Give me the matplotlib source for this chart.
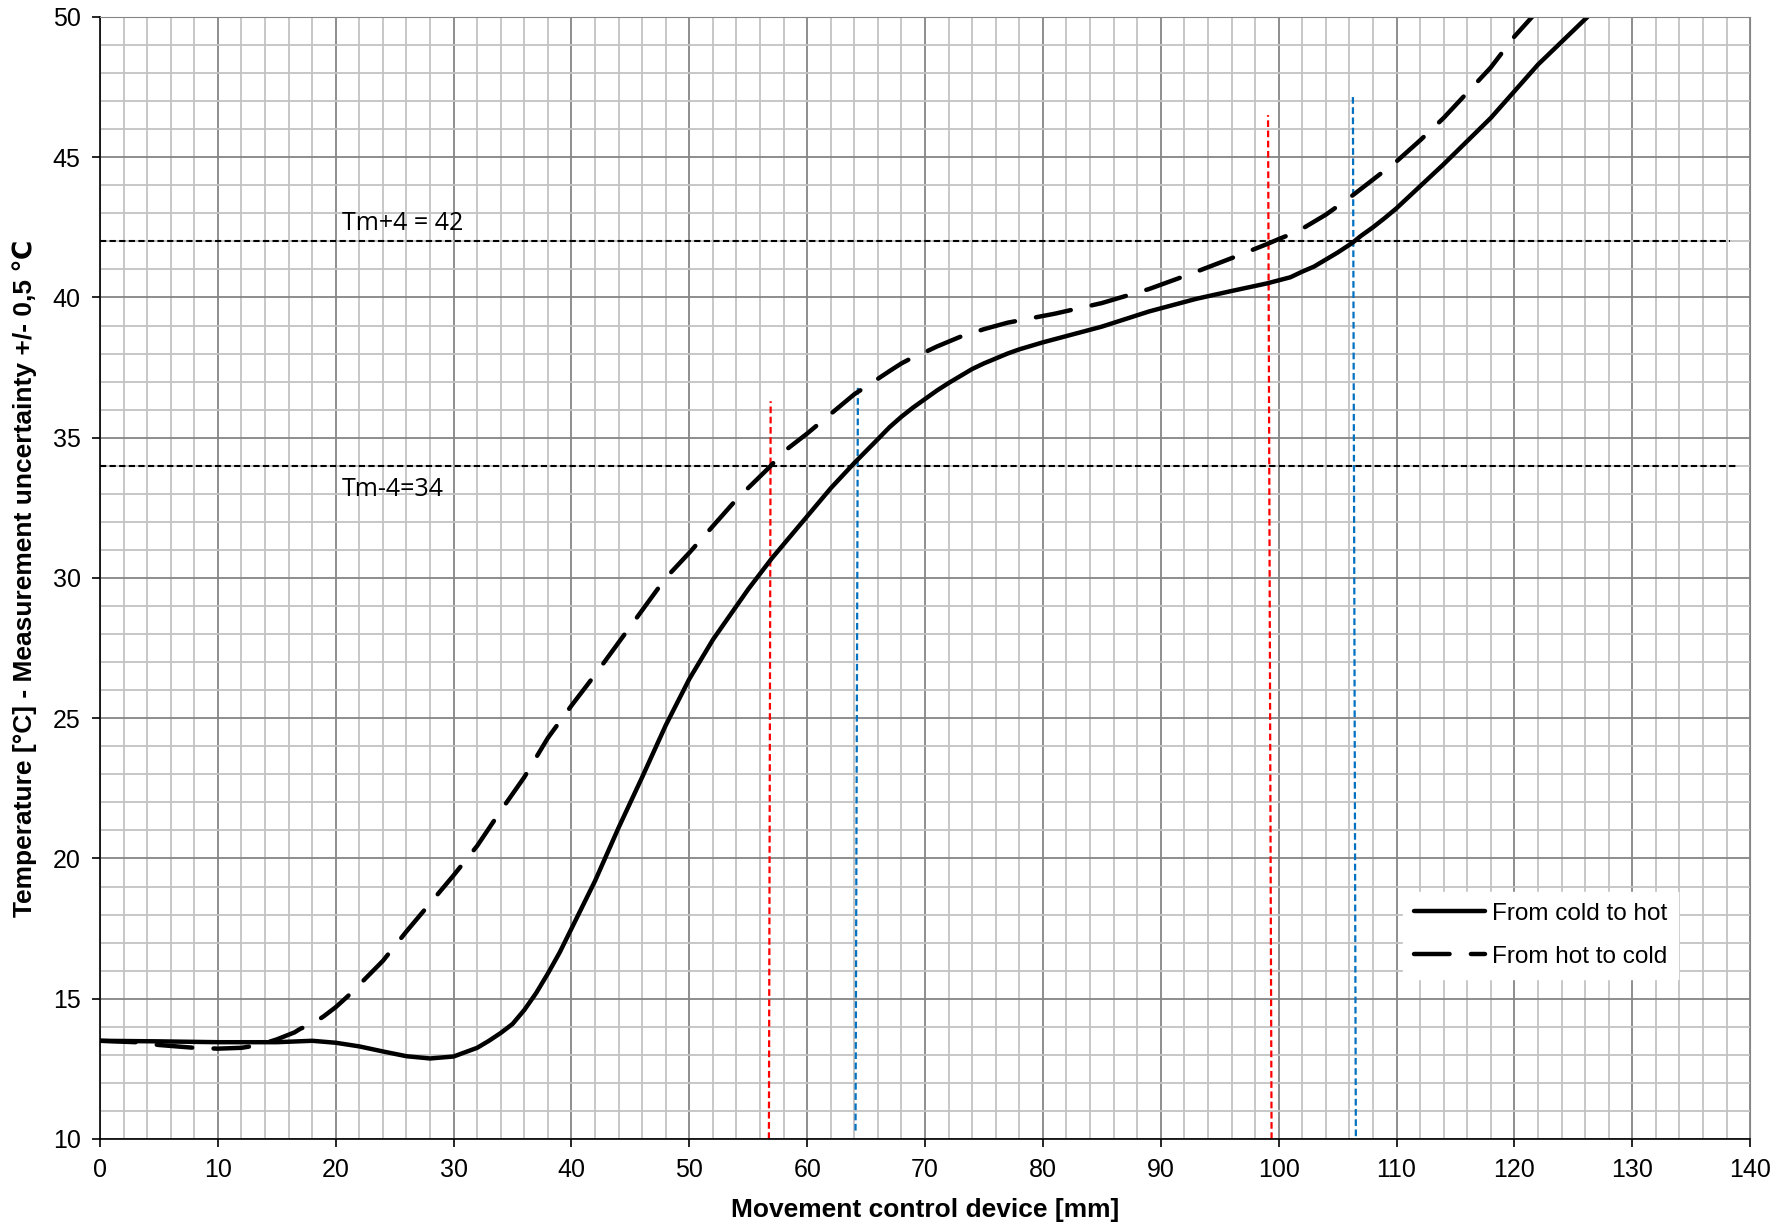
import matplotlib
matplotlib.use('Agg')
import matplotlib.pyplot as plt
from matplotlib.ticker import MultipleLocator

plt.rcParams['font.family'] = ['Liberation Sans', 'DejaVu Sans']

# from cold to hot (solid)
cold_x = [0, 5, 10, 15, 18, 20, 22, 24, 26, 28, 30, 32, 33, 34, 35, 36, 37, 38,
          39, 40, 42, 44, 46, 48, 50, 52, 55, 57, 60, 62, 64, 66, 67, 68, 69, 70,
          71, 72, 73, 74, 75, 77, 78, 80, 85, 89, 93, 96, 99, 101, 102, 103, 104,
          105, 106.2, 107, 108, 109, 110, 114, 118, 122, 126.2, 127]
cold_y = [13.5, 13.48, 13.45, 13.45, 13.5, 13.43, 13.3, 13.12, 12.95, 12.87, 12.94,
          13.25, 13.5, 13.78, 14.1, 14.6, 15.2, 15.9, 16.65, 17.5, 19.2, 21.1, 22.9,
          24.75, 26.4, 27.8, 29.6, 30.7, 32.2, 33.2, 34.1, 34.95, 35.38, 35.75, 36.08,
          36.38, 36.68, 36.95, 37.2, 37.45, 37.65, 38.0, 38.15, 38.4, 38.96, 39.5,
          39.95, 40.23, 40.5, 40.72, 40.92, 41.1, 41.35, 41.6, 41.93, 42.2, 42.5,
          42.83, 43.18, 44.75, 46.4, 48.3, 50.0, 50.4]

# from hot to cold (dashed)
hot_x = [0, 3, 5, 8, 10, 12, 13.5, 15, 16.5, 17, 18, 19, 20, 21, 22, 24, 26, 28,
         30, 32, 34, 36, 38, 40, 42, 44, 46, 48, 50, 52, 54, 56.8, 58, 60, 62, 64,
         66, 67, 68, 69, 70, 71, 73, 75, 77, 81, 85, 89, 92.6, 96, 99, 100, 101,
         102, 104, 106, 108, 110, 112, 114, 116, 118, 120, 121.5, 122.3]
hot_y = [13.5, 13.45, 13.35, 13.25, 13.22, 13.25, 13.35, 13.55, 13.8, 13.93, 14.1,
         14.38, 14.7, 15.08, 15.5, 16.35, 17.4, 18.4, 19.4, 20.45, 21.7, 22.9, 24.3,
         25.45, 26.55, 27.7, 28.85, 30.0, 30.9, 31.85, 32.8, 33.95, 34.5, 35.15,
         35.85, 36.55, 37.1, 37.38, 37.65, 37.87, 38.05, 38.25, 38.6, 38.87, 39.1,
         39.42, 39.8, 40.3, 40.85, 41.4, 41.9, 42.08, 42.25, 42.45, 42.95, 43.55,
         44.2, 44.85, 45.6, 46.4, 47.3, 48.2, 49.3, 50.0, 50.5]

# limits Tm +/- 4
upper_x = [0, 138.3]
upper_y = [42, 42]
lower_x = [0, 139.0]
lower_y = [34, 34]

# crossing markers
red1_x, red1_y = [56.75, 56.9], [10, 36.3]
blue1_x, blue1_y = [64.1, 64.3], [10.3, 36.8]
red2_x, red2_y = [99.4, 99.1], [10, 46.5]
blue2_x, blue2_y = [106.55, 106.3], [10.1, 47.2]

fig = plt.figure(figsize=(17.8, 12.28), dpi=100)
ax = fig.add_axes([0.0562, 0.0725, 0.927, 0.9137])

ax.set_xlim(0, 140)
ax.set_ylim(10, 50)
ax.xaxis.set_major_locator(MultipleLocator(10))
ax.xaxis.set_minor_locator(MultipleLocator(2))
ax.yaxis.set_major_locator(MultipleLocator(5))
ax.yaxis.set_minor_locator(MultipleLocator(1))
ax.grid(which='minor', color='#c3c3c3', lw=1.3)
ax.grid(which='major', color='#858585', lw=1.3)
ax.set_axisbelow(True)
ax.tick_params(which='minor', length=0)
ax.tick_params(which='major', length=6, width=1.2, direction='out',
               labelsize=18, pad=8)
for s in ['top', 'right']:
    ax.spines[s].set_color('#858585')
for s in ['left', 'bottom']:
    ax.spines[s].set_linewidth(1.2)

ax.plot(upper_x, upper_y, color='black', lw=1.5, dashes=(3, 1.6))
ax.plot(lower_x, lower_y, color='black', lw=1.5, dashes=(3, 1.6))
ax.plot(red1_x, red1_y, color='#ff0000', lw=1.6, dashes=(3, 1.6))
ax.plot(red2_x, red2_y, color='#ff0000', lw=1.6, dashes=(3, 1.6))
ax.plot(blue1_x, blue1_y, color='#0070c0', lw=1.6, dashes=(3, 1.6))
ax.plot(blue2_x, blue2_y, color='#0070c0', lw=1.6, dashes=(3, 1.6))

ax.plot(cold_x, cold_y, color='black', lw=3.2, solid_capstyle='round',
        solid_joinstyle='round', label='From cold to hot')
ax.plot(hot_x, hot_y, color='black', lw=3.2, dashes=(8, 4.8),
        dash_capstyle='round', dash_joinstyle='round', label='From hot to cold')

ax.text(20.5, 42.2, 'Tm+4 = 42', family='Open Sans', fontsize=18, va='bottom')
ax.text(20.5, 33.6, 'Tm-4=34', family='Open Sans', fontsize=18, va='top')

leg = ax.legend(loc='upper left', bbox_to_anchor=(0.7897, 0.2201),
                borderaxespad=0, fontsize=17.5, handlelength=2.9,
                handletextpad=0.3, labelspacing=0.85, borderpad=0.45,
                frameon=True, fancybox=False)
leg.get_frame().set_facecolor('white')
leg.get_frame().set_edgecolor('white')
leg.get_frame().set_alpha(1)

ax.set_xlabel('Movement control device [mm]', fontsize=19, fontweight='bold')
ax.set_ylabel('Temperature [°C] - Measurement uncertainty +/- 0,5 \u2103',
              fontsize=19, fontweight='bold')
ax.xaxis.set_label_coords(0.5, -0.053)
ax.yaxis.set_label_coords(-0.038, 0.5)

plt.savefig('out.png', dpi=100)
plt.close()
